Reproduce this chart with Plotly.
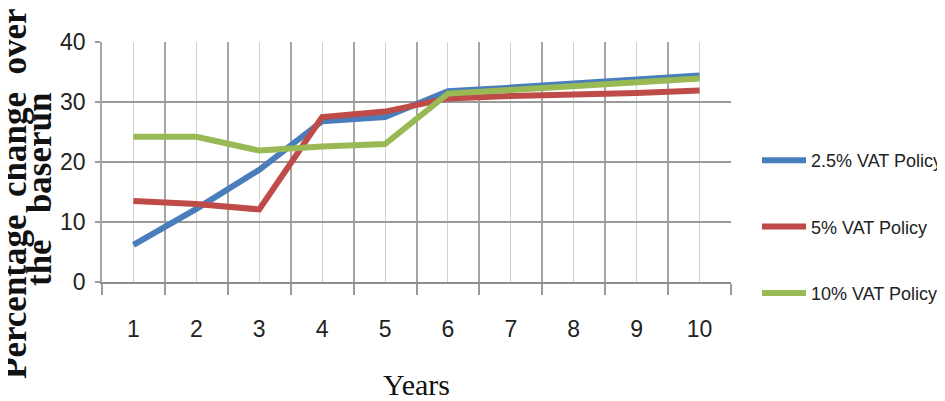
import plotly.graph_objects as go

years = [1, 2, 3, 4, 5, 6, 7, 8, 9, 10]
year_labels = ["1", "2", "3", "4", "5", "6", "7", "8", "9", "10"]
vat_2_5 = [6.2, 12.2, 18.7, 26.8, 27.5, 31.8, 32.4, 33.1, 33.8, 34.4]
vat_5 = [13.5, 13.0, 12.1, 27.5, 28.4, 30.6, 31.0, 31.2, 31.5, 31.9]
vat_10 = [24.2, 24.2, 21.9, 22.6, 23.0, 31.4, 32.0, 32.6, 33.2, 33.9]
series_names = ["2.5% VAT Policy", "5% VAT Policy", "10% VAT Policy"]
series_colors = ["#4A7EBB", "#BE4B48", "#98B954"]
y_ticks = [0, 10, 20, 30, 40]

# page body has an 8px margin: work in page pixels, convert to figure pixels
OFF = 8
W, H = 945 - OFF, 401 - OFF
L, R, T, B = 102 - OFF, 731 - OFF, 42 - OFF, 282 - OFF

def px_x(p):
    return (p - OFF - L) / (R - L)

def px_y(p):
    return (B - (p - OFF)) / (B - T)

sans = "Liberation Sans Narrow, Arial Narrow, Liberation Sans, Arial, sans-serif"
serif = "Liberation Serif, Times New Roman, serif"

fig = go.Figure()
for i, (name, vals) in enumerate(zip(series_names, [vat_2_5, vat_5, vat_10])):
    fig.add_trace(go.Scatter(
        x=years, y=vals, mode="lines", name=name,
        line=dict(color=series_colors[i], width=6),
        legendgroup=f"g{i}",
    ))

fig.update_layout(
    width=W, height=H,
    margin=dict(l=L, r=W - R, t=T, b=H - B, pad=0, autoexpand=False),
    plot_bgcolor="white", paper_bgcolor="white",
    showlegend=True,
    legend=dict(
        x=px_x(757), y=px_y(142), xanchor="left", yanchor="top",
        font=dict(family=sans, size=18, color="#222"),
        tracegroupgap=40, itemwidth=44,
        bgcolor="rgba(0,0,0,0)",
    ),
    xaxis=dict(
        range=[0.5, 10.5], tickmode="array", tickvals=years, ticktext=year_labels,
        showgrid=True, gridcolor="#d0d0d0", gridwidth=1,
        ticks="", ticklabelstandoff=25,
        tickfont=dict(family=sans, size=23, color="#222"),
        showline=True, linecolor="#8c8c8c", linewidth=2,
        zeroline=False,
        minor=dict(tick0=0.5, dtick=1, ticks="outside", ticklen=11, tickcolor="#9a9a9a",
                   tickwidth=1.5, showgrid=True, gridcolor="#a6a6a6", gridwidth=1.5),
    ),
    yaxis=dict(
        range=[0, 40], tickmode="array", tickvals=y_ticks,
        showgrid=True, gridcolor="#9a9a9a", gridwidth=1.5,
        ticks="outside", ticklen=5, tickcolor="#9a9a9a", tickwidth=1.5,
        ticklabelstandoff=5,
        tickfont=dict(family=sans, size=23, color="#222"),
        showline=True, linecolor="#a6a6a6", linewidth=1.5,
        zeroline=False,
    ),
    annotations=[
        dict(text="Percentage\u00a0 change\u00a0 over", textangle=-90,
             xref="paper", yref="paper", x=px_x(14), y=px_y(194),
             xanchor="center", yanchor="middle", showarrow=False,
             font=dict(family=serif, size=35, color="#111", weight="bold")),
        dict(text="the\u00a0\u00a0\u00a0baserun", textangle=-90,
             xref="paper", yref="paper", x=px_x(39), y=px_y(189),
             xanchor="center", yanchor="middle", showarrow=False,
             font=dict(family=serif, size=35, color="#111", weight="bold")),
        dict(text="Years", xref="paper", yref="paper",
             x=px_x(416), y=px_y(384), xanchor="center", yanchor="middle",
             showarrow=False, font=dict(family=serif, size=30, color="#111")),
    ],
)

fig.write_html("out.html")
